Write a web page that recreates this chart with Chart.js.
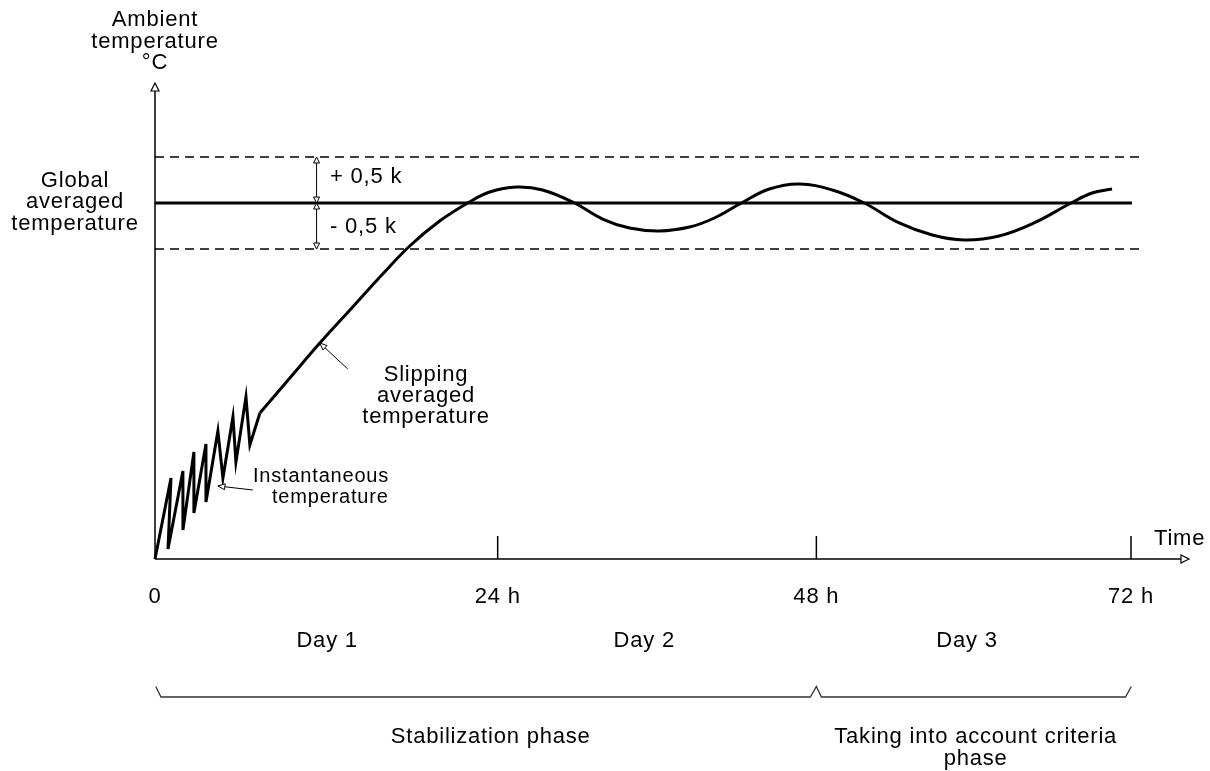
<!DOCTYPE html>
<html><head><meta charset="utf-8">
<script src="https://cdn.jsdelivr.net/npm/chart.js@4"></script>
<style>html,body{margin:0;padding:0;background:#fff}canvas{display:block}</style>
</head><body>
<canvas id="c" width="1210" height="771"></canvas>
<script>
// ---- data (x in hours as drawn, y in °C relative to a global average of 20) ----
const globalTemp = 20;
const band = 0.5;
const instX = [0, 1.18, 0.96, 2.06, 2.06, 2.87, 2.87, 3.76, 3.76, 4.64, 5.01, 5.75, 5.97, 6.71, 7.00, 7.74];
const instY = [16.13, 17.011, 16.239, 17.087, 16.446, 17.293, 16.630, 17.380, 16.750, 17.522, 17.011, 17.674, 17.185, 17.891, 17.370, 17.717];
const slipX = [7.74, 9.95, 12.16, 14.52, 16.73, 18.79, 21.00, 23.07, 24.69, 26.68, 28.59, 30.95, 33.02, 35.01, 37.22, 39.43, 41.27, 43.26, 45.32, 47.53, 49.97, 52.32, 54.90, 57.34, 59.69, 62.27, 64.85, 67.58, 69.13, 70.60];
const slipY = [17.717, 18.098, 18.478, 18.859, 19.217, 19.533, 19.804, 20.0, 20.120, 20.174, 20.141, 20.0, 19.826, 19.728, 19.696, 19.739, 19.837, 20.0, 20.152, 20.207, 20.141, 20.0, 19.783, 19.652, 19.598, 19.641, 19.783, 20.0, 20.109, 20.152];
const tickValues = [0, 25.28, 48.79, 72];
const tickLabels = ['0', '24 h', '48 h', '72 h'];
const dayLabels = ['Day 1', 'Day 2', 'Day 3'];
const dayCenters = [12.7, 36.1, 59.9];
const phaseBounds = [0, 48.79, 72];
const phaseLabels = [['Stabilization phase'], ['Taking into account criteria', 'phase']];
const lineEnd = 72.07;
const bandEnd = 72.6;

const FONT = '"Liberation Sans", Arial, sans-serif';

function openHead(ctx, tx, ty, fx, fy, len, half) {
  const a = Math.atan2(ty - fy, tx - fx);
  const bx = tx - len * Math.cos(a), by = ty - len * Math.sin(a);
  const nx = -Math.sin(a) * half, ny = Math.cos(a) * half;
  ctx.beginPath();
  ctx.moveTo(tx, ty);
  ctx.lineTo(bx + nx, by + ny);
  ctx.lineTo(bx - nx, by - ny);
  ctx.closePath();
  ctx.fillStyle = '#fff';
  ctx.fill();
  ctx.stroke();
}

const decor = {
  id: 'decor',
  afterDatasetsDraw(chart) {
    const ctx = chart.ctx;
    const xs = chart.scales.x, ys = chart.scales.y;
    const X = v => xs.getPixelForValue(v), Y = v => ys.getPixelForValue(v);
    const ca = chart.chartArea;
    ctx.save();
    ctx.strokeStyle = '#000';
    ctx.lineWidth = 1.5;
    // axes
    ctx.beginPath();
    ctx.moveTo(ca.left, ca.bottom); ctx.lineTo(ca.left, ca.top + 6);
    ctx.moveTo(ca.left, ca.bottom); ctx.lineTo(ca.right - 6, ca.bottom);
    ctx.stroke();
    ctx.lineWidth = 1.2;
    openHead(ctx, ca.left, ca.top - 2, ca.left, ca.top + 20, 8, 4);
    openHead(ctx, ca.right, ca.bottom, ca.left, ca.bottom, 8, 4);
    // tick marks
    ctx.lineWidth = 1.5;
    ctx.beginPath();
    for (let i = 1; i < tickValues.length; i++) {
      ctx.moveTo(X(tickValues[i]), ca.bottom);
      ctx.lineTo(X(tickValues[i]), ca.bottom - 23);
    }
    ctx.stroke();
    // +/- band double arrows
    const ax = X(11.92);
    ctx.lineWidth = 1;
    ctx.beginPath();
    ctx.moveTo(ax, Y(globalTemp + band)); ctx.lineTo(ax, Y(globalTemp - band));
    ctx.stroke();
    [[globalTemp + band, globalTemp], [globalTemp, globalTemp + band], [globalTemp, globalTemp - band], [globalTemp - band, globalTemp]].forEach(p => {
      openHead(ctx, ax, Y(p[0]), ax, Y(p[1]), 6, 3);
    });
    // pointer arrows
    ctx.beginPath();
    ctx.moveTo(X(7.22), Y(16.880)); ctx.lineTo(X(4.64), Y(16.924));
    ctx.moveTo(X(14.22), Y(18.196)); ctx.lineTo(X(12.16), Y(18.478));
    ctx.stroke();
    openHead(ctx, X(4.64), Y(16.924), X(7.22), Y(16.880), 7, 3);
    openHead(ctx, X(12.16), Y(18.478), X(14.22), Y(18.196), 7, 3);
    // phase brace
    const by = ca.bottom + 138;
    ctx.strokeStyle = '#333';
    ctx.lineWidth = 1.3;
    const p0 = X(phaseBounds[0]), p1 = X(phaseBounds[1]), p2 = X(phaseBounds[2]);
    ctx.beginPath();
    ctx.moveTo(p0 + 0.7, by - 10.5); ctx.lineTo(p0 + 6, by);
    ctx.lineTo(p1 - 6, by); ctx.lineTo(p1, by - 10.5); ctx.lineTo(p1 + 5, by);
    ctx.lineTo(p2 - 5.5, by); ctx.lineTo(p2 + 0.3, by - 10.5);
    ctx.stroke();

    // texts
    ctx.fillStyle = '#000';
    ctx.textBaseline = 'alphabetic';
    try { ctx.letterSpacing = '0.8px'; } catch (e) {}
    const T = (s, x, y, align, size) => {
      ctx.font = (size || 22) + 'px ' + FONT;
      ctx.textAlign = align || 'center';
      ctx.fillText(s, x, y);
    };
    T('Ambient', ca.left, 26); T('temperature', ca.left, 48); T('°C', ca.left, 69);
    T('Global', 75, 187); T('averaged', 75, 208); T('temperature', 75, 230);
    T('+ 0,5 k', 330, 183, 'left'); T('- 0,5 k', 330, 233, 'left');
    T('Slipping', 426, 381); T('averaged', 426, 402); T('temperature', 426, 423);
    T('Instantaneous', 253, 482, 'left', 20); T('temperature', 272, 503, 'left', 20);
    T('Time', 1154, 545, 'left');
    tickValues.forEach((v, i) => T(tickLabels[i], X(v), ca.bottom + 44));
    dayLabels.forEach((d, i) => T(d, X(dayCenters[i]), ca.bottom + 88));
    T(phaseLabels[0][0], (p0 + p1) / 2 + 5, ca.bottom + 184);
    T(phaseLabels[1][0], (p1 + p2) / 2 + 2, ca.bottom + 184);
    T(phaseLabels[1][1], (p1 + p2) / 2 + 2, ca.bottom + 206);
    ctx.restore();
  }
};

const pts = (xa, ya) => xa.map((x, i) => ({ x, y: ya[i] }));

new Chart(document.getElementById('c'), {
  type: 'line',
  data: {
    datasets: [
      { label: 'Instantaneous temperature', data: pts(instX, instY), borderColor: '#000', borderWidth: 3, tension: 0, pointRadius: 0, borderJoinStyle: 'miter', clip: false },
      { label: 'Slipping averaged temperature', data: pts(slipX, slipY), borderColor: '#000', borderWidth: 3, tension: 0.4, pointRadius: 0, clip: false },
      { label: 'Global averaged temperature', data: [{ x: 0, y: globalTemp }, { x: lineEnd, y: globalTemp }], borderColor: '#000', borderWidth: 3, pointRadius: 0, clip: false },
      { label: '+0.5 K', data: [{ x: 0, y: globalTemp + band }, { x: bandEnd, y: globalTemp + band }], borderColor: '#000', borderWidth: 1.5, borderDash: [9, 6], pointRadius: 0, clip: false },
      { label: '-0.5 K', data: [{ x: 0, y: globalTemp - band }, { x: bandEnd, y: globalTemp - band }], borderColor: '#000', borderWidth: 1.5, borderDash: [9, 6], pointRadius: 0, clip: false }
    ]
  },
  options: {
    responsive: false,
    animation: false,
    events: [],
    layout: { padding: { left: 155, right: 21, top: 85, bottom: 212 } },
    plugins: { legend: { display: false }, tooltip: { enabled: false } },
    scales: {
      x: { type: 'linear', display: false, min: 0, max: 76.28 },
      y: { type: 'linear', display: false, min: 16.13, max: 21.283 }
    }
  },
  plugins: [decor]
});
</script>
</body></html>
